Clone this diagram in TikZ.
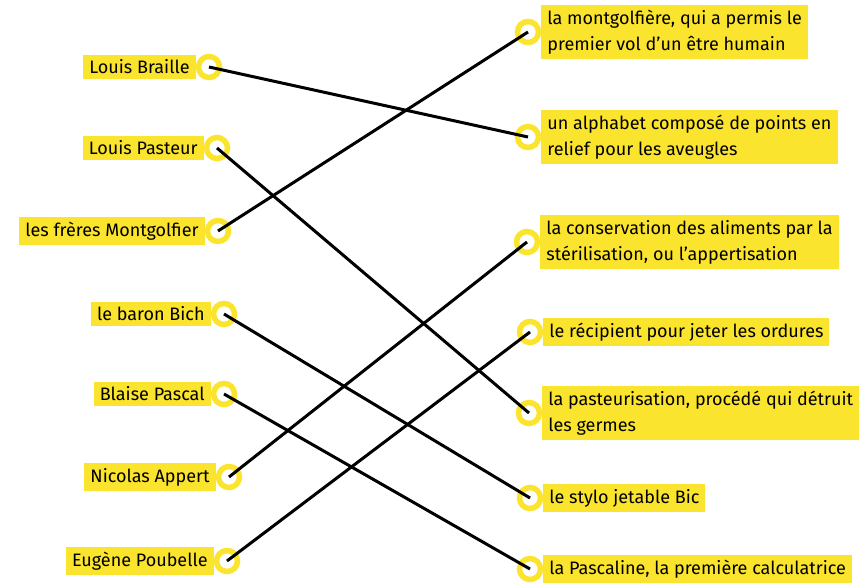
\documentclass[tikz,border=0pt]{standalone}
\usepackage{fontspec}
\setmainfont{Fira Sans}
\usetikzlibrary{backgrounds,positioning}
\definecolor{jaune}{RGB}{251,228,46}

\begin{document}
\begin{tikzpicture}[x=1pt,y=-1pt,node distance=0pt]
      \useasboundingbox (0,0) rectangle (860,585);
      \begin{scope}[every node/.style={circle,draw=jaune,fill=white,line width=5.5pt,minimum size=21pt,inner sep=0pt}]
        \node (Br) at (209,67) {};
        \node (Pa) at (217,148) {};
        \node (Mo) at (218,231) {};
        \node (Bi) at (224,314) {};
        \node (Pc) at (224,394) {};
        \node (Ap) at (229,477) {};
        \node (Po) at (227,561) {};
        \node (mo) at (528,32) {};
        \node (br) at (528,137) {};
        \node (ap) at (527,242) {};
        \node (po) at (530,332) {};
        \node (pa) at (529,413) {};
        \node (bi) at (530,498) {};
        \node (pc) at (530,569) {};
      \end{scope}
      \begin{scope}[on background layer,
        every node/.style={fill=jaune,align=left,inner xsep=6pt,inner ysep=5pt,font=\fontsize{18}{26}\selectfont}]
        \node (tBr) [left=of Br] {Louis Braille};
        \node (tPa) [left=of Pa] {Louis Pasteur};
        \node (tMo) [left=of Mo] {les frères Montgolfier};
        \node (tBi) [left=of Bi] {le baron Bich};
        \node (tPc) [left=of Pc] {Blaise Pascal};
        \node (tAp) [left=of Ap] {Nicolas Appert};
        \node (tPo) [left=of Po] {Eugène Poubelle};
        \node (tmo) [right=of mo] {la montgolfière, qui a permis le\\premier vol d’un être humain};
        \node (tbr) [right=of br] {un alphabet composé de points en\\relief pour les aveugles};
        \node (tap) [right=of ap] {la conservation des aliments par la\\stérilisation, ou l’appertisation};
        \node (tpo) [right=of po] {le récipient pour jeter les ordures};
        \node (tpa) [right=of pa] {la pasteurisation, procédé qui détruit\\les germes};
        \node (tbi) [right=of bi] {le stylo jetable Bic};
        \node (tpc) [right=of pc] {la Pascaline, la première calculatrice};
      \end{scope}
      \begin{scope}[every edge/.style={draw=black,line width=3pt}]
        \path (Br.center) edge (br.center);
        \path (Pa.center) edge (pa.center);
        \path (Mo.center) edge (mo.center);
        \path (Bi.center) edge (bi.center);
        \path (Pc.center) edge (pc.center);
        \path (Ap.center) edge (ap.center);
        \path (Po.center) edge (po.center);
      \end{scope}
\end{tikzpicture}
\end{document}
